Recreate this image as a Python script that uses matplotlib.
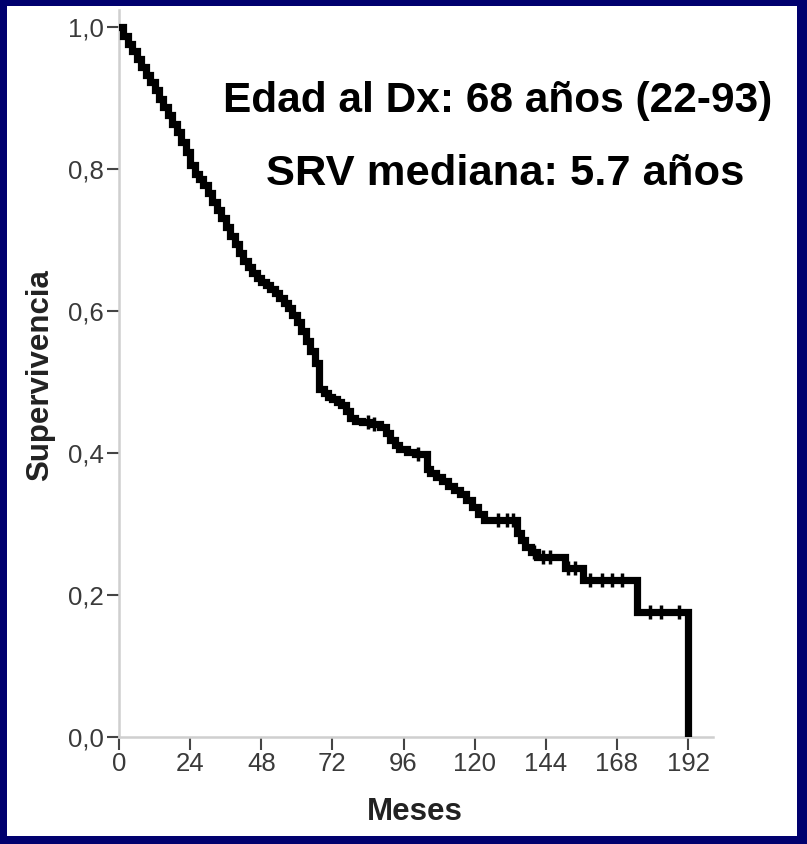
import matplotlib
matplotlib.use('Agg')
import matplotlib.pyplot as plt
from matplotlib.patches import Rectangle
import numpy as np

plt.rcParams['font.family'] = ['Liberation Sans', 'DejaVu Sans']

# Kaplan-Meier steps (months, survival after the step)
meses = [0, 1.5, 3, 4.5, 6, 7.5, 9, 10.5, 12, 13.5, 15, 16.5, 18, 19.5, 21, 22.5,
         24, 25.5, 27, 28.5, 30, 31.5, 33, 34.5, 36, 37.5, 39, 40.5, 42, 43.5, 45,
         46.5, 48, 49.5, 51, 52.5, 54, 55.5, 57, 58.5, 60, 61.5, 63, 64.5, 66, 67.5,
         69, 70.5, 72, 73.5, 75, 76.5, 78, 79.5, 82, 85, 88, 90, 91.5, 93, 94.5, 97,
         100, 104, 105, 107, 109, 111, 113, 115, 117, 119, 121, 123, 134.3, 135.5,
         137, 139, 141, 150.5, 156.5, 174.8, 192]
superv = [1.0, 0.988, 0.976, 0.966, 0.955, 0.944, 0.933, 0.922, 0.911, 0.899, 0.887,
          0.876, 0.864, 0.852, 0.838, 0.824, 0.805, 0.793, 0.786, 0.777, 0.766, 0.754,
          0.742, 0.731, 0.719, 0.706, 0.694, 0.682, 0.671, 0.662, 0.654, 0.647, 0.641,
          0.636, 0.631, 0.625, 0.619, 0.612, 0.604, 0.595, 0.585, 0.572, 0.558, 0.543,
          0.527, 0.490, 0.484, 0.479, 0.476, 0.472, 0.468, 0.459, 0.450, 0.445, 0.443,
          0.441, 0.436, 0.428, 0.419, 0.411, 0.405, 0.401, 0.398, 0.378, 0.372, 0.366,
          0.360, 0.354, 0.348, 0.342, 0.334, 0.324, 0.314, 0.305, 0.288, 0.277, 0.268,
          0.260, 0.254, 0.238, 0.221, 0.176, 0.0]

# censored cases
censurados = [84, 86, 101, 128, 131, 133, 140, 143, 145.5, 151.5, 154,
              159, 163, 166.3, 169.7, 179, 183, 189]

xticks = [0, 24, 48, 72, 96, 120, 144, 168, 192]
yticks = [0.0, 0.2, 0.4, 0.6, 0.8, 1.0]
ylabels = ['0,0', '0,2', '0,4', '0,6', '0,8', '1,0']

navy = '#00006e'

fig = plt.figure(figsize=(8.07, 8.44), dpi=100)
fig.patch.set_facecolor(navy)
fig.patches.append(Rectangle((7/807, 8/844), 790/807, 830/844, transform=fig.transFigure,
                             facecolor='white', edgecolor='none', zorder=-10))

ax = fig.add_axes([119/807, 1 - 737/844, 594/807, 727/844])
ax.set_facecolor('none')

ax.step(meses, superv, where='post', color='black', lw=5.2, solid_joinstyle='miter', zorder=3)

# censor ticks sit on the step they fall in
idx = np.searchsorted(meses, censurados, side='right') - 1
cy = [superv[i] for i in idx]
ax.plot(censurados, cy, ls='none', marker='|', ms=9.5, mew=2.5, color='black', zorder=4)

ax.set_xlim(0, 200.4)
ax.set_ylim(0, 1.024)
ax.set_xticks(xticks)
ax.set_xticklabels([str(x) for x in xticks])
ax.set_yticks(yticks)
ax.set_yticklabels(ylabels)

for s in ['top', 'right']:
    ax.spines[s].set_visible(False)
for s in ['left', 'bottom']:
    ax.spines[s].set_color('#cfcfcf')
    ax.spines[s].set_linewidth(1.8)

ax.tick_params(axis='both', direction='out', length=9, width=1.5, color='#444444',
               labelsize=18.5, labelcolor='#3a3a3a', pad=2)

fig.text(0.617, 1 - 112/844, 'Edad al Dx: 68 años (22-93)', ha='center', va='baseline',
         fontsize=30.5, fontweight='bold', color='black')
fig.text(0.626, 1 - 185/844, 'SRV mediana: 5.7 años', ha='center', va='baseline',
         fontsize=31.3, fontweight='bold', color='black')

fig.text(415/807, 1 - 812/844, 'Meses', ha='center', va='center',
         fontsize=22.5, fontweight='bold', color='#222222')
fig.text(40/807, 1 - 375/844, 'Supervivencia', ha='center', va='center', rotation=90,
         fontsize=22.5, fontweight='bold', color='#222222')

fig.savefig('out.png', dpi=100, facecolor=fig.get_facecolor())
